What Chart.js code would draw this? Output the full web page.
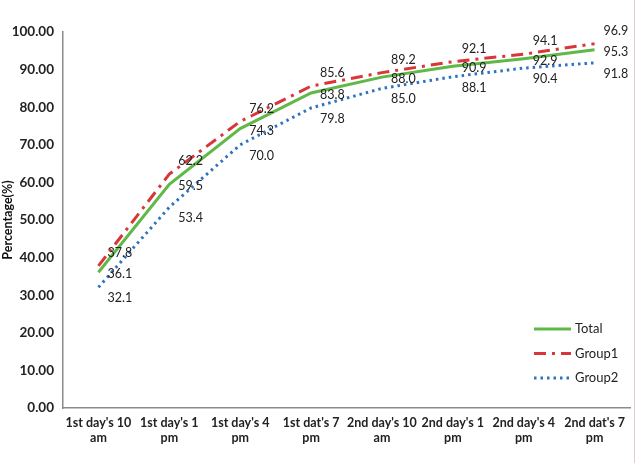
<!DOCTYPE html>
<html>
<head>
<meta charset="utf-8">
<script src="https://cdn.jsdelivr.net/npm/chart.js@4"></script>
<style>
  html, body { margin: 0; padding: 0; background: #fff; }
  #wrap { position: relative; width: 636px; height: 463px; }
  #wrap:after { content: ""; position: absolute; right: 1px; top: 0; bottom: 0; border-right: 1px solid #e6c9c9; }
</style>
</head>
<body>
<div id="wrap"><canvas id="chart" width="636" height="463"></canvas></div>
<script>
const categories = [
  ["1st day's 10", "am"], ["1st day's 1", "pm"], ["1st day's 4", "pm"], ["1st dat's 7", "pm"],
  ["2nd day's 10", "am"], ["2nd day's 1", "pm"], ["2nd day's 4", "pm"], ["2nd dat's 7", "pm"]
];
const total = [36.1, 59.5, 74.3, 83.8, 88.0, 90.9, 92.9, 95.3];
const group1 = [37.8, 62.2, 76.2, 85.6, 89.2, 92.1, 94.1, 96.9];
const group2 = [32.1, 53.4, 70.0, 79.8, 85.0, 88.1, 90.4, 91.8];

const FONT = "Lato, 'Open Sans', sans-serif";

// value labels to the right of each point, offset per series
const labelOffsets = { Total: 2, Group1: -13, Group2: 11 };

const valueLabels = {
  id: "valueLabels",
  afterDatasetsDraw(chart) {
    const ctx = chart.ctx;
    ctx.save();
    ctx.font = "12.5px " + FONT;
    ctx.fillStyle = "#222";
    ctx.textAlign = "left";
    ctx.textBaseline = "middle";
    chart.data.datasets.forEach((ds, i) => {
      const meta = chart.getDatasetMeta(i);
      meta.data.forEach((pt, j) => {
        ctx.fillText(ds.data[j].toFixed(1), pt.x + 9, pt.y + labelOffsets[ds.label]);
      });
    });
    ctx.restore();
  }
};

// legend drawn inside the plot area, lower right
const insideLegend = {
  id: "insideLegend",
  afterDraw(chart) {
    const ctx = chart.ctx;
    const x0 = 534, x1 = 571;
    let y = 329;
    ctx.save();
    chart.data.datasets.forEach(ds => {
      ctx.beginPath();
      ctx.strokeStyle = ds.borderColor;
      ctx.lineWidth = ds.borderWidth;
      ctx.setLineDash(ds.borderDash || []);
      ctx.moveTo(x0, y);
      ctx.lineTo(x1, y);
      ctx.stroke();
      ctx.setLineDash([]);
      ctx.font = "13px " + FONT;
      ctx.fillStyle = "#222";
      ctx.textBaseline = "middle";
      ctx.fillText(ds.label, x1 + 4, y);
      y += 24.5;
    });
    ctx.restore();
  }
};

new Chart(document.getElementById("chart").getContext("2d"), {
  type: "line",
  data: {
    labels: categories,
    datasets: [
      { label: "Total", data: total, borderColor: "#5fb847", borderWidth: 3, pointRadius: 0, tension: 0, fill: false },
      { label: "Group1", data: group1, borderColor: "#d9363a", borderWidth: 3, borderDash: [12, 6, 3, 6], pointRadius: 0, tension: 0, fill: false },
      { label: "Group2", data: group2, borderColor: "#2f72c0", borderWidth: 3, borderDash: [2.5, 4], pointRadius: 0, tension: 0, fill: false }
    ]
  },
  options: {
    responsive: false,
    animation: false,
    layout: { padding: { top: 32, right: 6, left: 0, bottom: 0 } },
    plugins: { legend: { display: false }, tooltip: { enabled: false } },
    scales: {
      x: {
        offset: true,
        grid: { display: false, drawTicks: false },
        border: { display: true, color: "#8a8a8a", width: 1.5 },
        ticks: { color: "#222", font: { family: FONT, size: 12.5, weight: "bold" }, maxRotation: 0, autoSkip: false, padding: 7 },
        afterFit(scale) { scale.height = 55; }
      },
      y: {
        min: 0, max: 100,
        grid: { display: false, drawTicks: false },
        border: { display: true, color: "#8a8a8a", width: 1.5 },
        ticks: { stepSize: 10, color: "#222", font: { family: FONT, size: 13.5, weight: "bold" }, padding: 9,
          callback: v => v.toFixed(2) },
        title: { display: true, text: "Percentage(%)", color: "#111", font: { family: FONT, size: 12.5, weight: "bold" }, padding: 0 },
        afterFit(scale) { scale.width = 63; }
      }
    }
  },
  plugins: [valueLabels, insideLegend]
});
</script>
</body>
</html>
